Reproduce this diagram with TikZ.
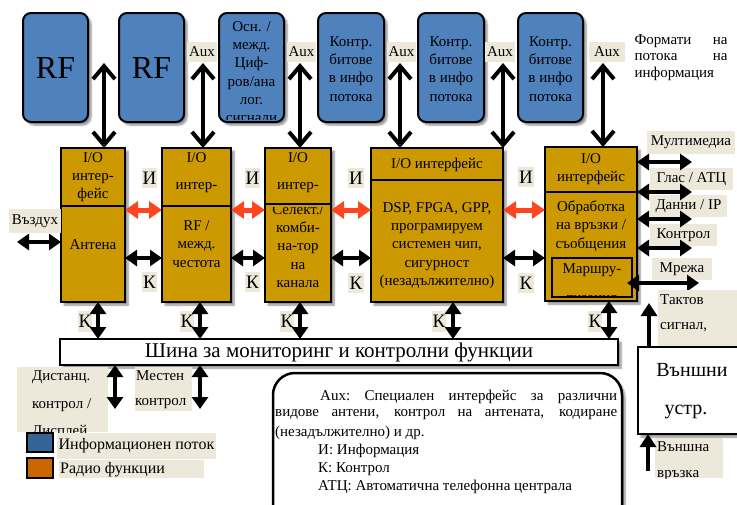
\documentclass[tikz,border=0pt]{standalone}
\usepackage{fontspec}
\setmainfont{Liberation Serif}
\usetikzlibrary{arrows.meta,shadows.blur}
\definecolor{blueF}{RGB}{79,129,189}
\definecolor{goldF}{RGB}{204,153,0}
\definecolor{beigeL}{RGB}{236,233,219}
\definecolor{redA}{RGB}{255,69,31}
\definecolor{legBlue}{RGB}{52,100,150}
\definecolor{legOrange}{RGB}{204,102,0}
\newcommand\mybox[7]{\node[inner sep=0pt,outer sep=0pt,minimum width={#4-#2},minimum height={#5-#3},#6] (#1) at ({(#2+#4)/2},{(#3+#5)/2}) {#7};}
\tikzset{
  sh/.style={blur shadow={shadow xshift=3pt,shadow yshift=-3pt,shadow blur steps=6,shadow opacity=45}},
  topbox/.style={draw=black,line width=2pt,fill=blueF,rounded corners=8pt,sh},
  goldbox/.style={draw=black,line width=2pt,fill=goldF},
  beige/.style={fill=beigeL},
  tt/.style={align=center,inner sep=0pt,font=\fontsize{15}{18.3}\selectfont},
  big/.style={inner sep=0pt,font=\fontsize{32}{36}\selectfont},
  lblf/.style={font=\fontsize{15}{18}\selectfont},
  ikf/.style={font=\fontsize{19}{20}\selectfont},
  vbarb/.style={line width=4pt,{Straight Barb[length=13pt,width=22pt]}-{Straight Barb[length=13pt,width=22pt]}},
  blk/.style={line width=3.5pt,{Triangle[length=12pt,width=16pt]}-{Triangle[length=12pt,width=16pt]}},
  reda/.style={draw=redA,line width=5pt,{Triangle[length=13pt,width=17pt]}-{Triangle[length=13pt,width=17pt]}},
  upa/.style={line width=3.5pt,-{Triangle[length=13pt,width=16pt]}},
}
\begin{document}
\begin{tikzpicture}[x=1pt,y=-1pt]
\useasboundingbox (0,0) rectangle (737,504);
% ---------- top boxes
\mybox{t1}{23}{13}{88}{122}{topbox}{}
\mybox{t2}{119}{13}{184}{122}{topbox}{}
\mybox{t3}{219}{13}{284}{122}{topbox}{}
\mybox{t4}{318}{13}{384}{122}{topbox}{}
\mybox{t5}{418}{13}{484}{122}{topbox}{}
\mybox{t6}{518}{13}{583}{122}{topbox}{}
\node[big] (t1x) at (55.5,68) {RF};
\node[big] (t2x) at (151.5,68) {RF};
\begin{scope}
\clip (221,15) rectangle (282,119.5);
\node[tt] (t3x) at (251.5,72) {Осн. /\\межд.\\Циф-\\ров/ана\\лог.\\сигнали};
\end{scope}
\node[tt] (t4x) at (351,69) {Контр.\\битове\\в инфо\\потока};
\node[tt] (t5x) at (451,69) {Контр.\\битове\\в инфо\\потока};
\node[tt] (t6x) at (550.5,69) {Контр.\\битове\\в инфо\\потока};
% Aux labels
\mybox{aux2}{187}{42}{217}{62}{beige,lblf}{Aux}
\mybox{aux3}{287}{42}{316}{62}{beige,lblf}{Aux}
\mybox{aux4}{387}{42}{416}{62}{beige,lblf}{Aux}
\mybox{aux5}{485}{42}{515}{62}{beige,lblf}{Aux}
\mybox{aux6}{589}{42}{625}{62}{beige,lblf}{Aux}
\node[lblf,inner sep=0pt,align=left] (fmt) at (681,57.5) {\hbox to 93pt{Формати\hfill на}\\[-1.5pt]\hbox to 93pt{потока\hfill на}\\[-1.5pt]\hbox to 93pt{информация\hfill}};
% ---------- gold boxes
\mybox{b1}{61}{148}{125}{302}{goldbox,sh}{}
\mybox{b1u}{61}{148}{125}{206}{goldbox}{}
\mybox{b1l}{61}{206}{125}{302}{goldbox}{}
\mybox{b2}{162}{148}{231}{302}{goldbox,sh}{}
\mybox{b2u}{162}{148}{231}{206}{goldbox}{}
\mybox{b2l}{162}{206}{231}{302}{goldbox}{}
\mybox{b3}{265}{148}{331}{302}{goldbox,sh}{}
\mybox{b3u}{265}{148}{331}{204}{goldbox}{}
\mybox{b3l}{265}{204}{331}{302}{goldbox}{}
\mybox{b4}{371}{148}{503}{302}{goldbox,sh}{}
\mybox{b4u}{371}{148}{503}{180}{goldbox}{}
\mybox{b4l}{371}{180}{503}{302}{goldbox}{}
\mybox{b5}{545}{147}{637}{301}{goldbox,sh}{}
\mybox{b5u}{545}{147}{637}{192}{goldbox}{}
\mybox{b5l}{545}{192}{637}{301}{goldbox}{}
\mybox{b5r}{552}{258}{632}{297}{goldbox}{}
% gold box texts
\node[tt] (b1ut) at (93,177) {I/O\\интер-\\фейс};
\node[tt] (b1lt) at (93,245) {Антена};
\node[tt] (b2ut1) at (196.5,158) {I/O};
\node[tt] (b2ut2) at (196.5,188) {интер-};
\node[tt] (b2lt) at (196.5,244) {RF /\\межд.\\честота};
\node[tt] (b3ut1) at (298,158) {I/O};
\node[tt] (b3ut2) at (298,188) {интер-};
\begin{scope}
\clip (266,207.5) rectangle (330,301);
\node[tt] (b3lt) at (298,246) {Селект./\\комби-\\на-тор\\на\\канала};
\end{scope}
\node[tt] (b4ut) at (437,165) {I/O интерфейс};
\node[tt] (b4lt) at (437,245.5) {DSP, FPGA, GPP,\\програмируем\\системен чип,\\сигурност\\(незадължително)};
\node[tt] (b5ut) at (591,169) {I/O\\интерфейс};
\node[tt] (b5lt) at (591,226) {Обработка\\на връзки /\\съобщения};
\begin{scope}
\clip (553,259) rectangle (631,296);
\node[tt] (b5rt1) at (592,270) {Маршру-};
\node[tt] (b5rt2) at (592,300) {тизация};
\end{scope}
% ---------- top arrows
\coordinate (a1) at (104,63);
\coordinate (a2) at (203,63);
\coordinate (a3) at (300,63);
\coordinate (a4) at (400,63);
\coordinate (a5) at (503,63);
\coordinate (a6) at (603,63);
\draw[vbarb] (a1) -- (a1 |- b1.north);
\draw[vbarb] (a2) -- (a2 |- b2.north);
\draw[vbarb] (a3) -- (a3 |- b3.north);
\draw[vbarb] (a4) -- (a4 |- b4.north);
\draw[vbarb] (a5) -- (a5 |- b4.north);
\draw[vbarb] (a6) -- (a6 |- b5.north);
% ---------- И / К labels and arrows between boxes
\mybox{i1}{142}{168}{157}{188}{beige,ikf}{И}
\mybox{i2}{245}{168}{260}{188}{beige,ikf}{И}
\mybox{i3}{348}{168}{364}{188}{beige,ikf}{И}
\mybox{i4}{518}{167}{534}{187}{beige,ikf}{И}
\mybox{k1}{142}{272}{157}{292}{beige,ikf}{К}
\mybox{k2}{245}{272}{260}{292}{beige,ikf}{К}
\mybox{k3}{348}{273}{364}{293}{beige,ikf}{К}
\mybox{k4}{518}{273}{534}{293}{beige,ikf}{К}
\coordinate (yi) at (0,210);
\coordinate (yk) at (0,258);
\draw[reda] (b1.east |- yi) -- (b2.west |- yi);
\draw[reda] (b2.east |- yi) -- (b3.west |- yi);
\draw[reda] (b3.east |- yi) -- (b4.west |- yi);
\draw[reda] (b4.east |- yi) -- (b5.west |- yi);
\draw[blk] (b1.east |- yk) -- (b2.west |- yk);
\draw[blk] (b2.east |- yk) -- (b3.west |- yk);
\draw[blk] (b3.east |- yk) -- (b4.west |- yk);
\draw[blk] (b4.east |- yk) -- (b5.west |- yk);
% Въздух
\mybox{air}{9}{209}{61}{233}{beige,lblf}{Въздух}
\coordinate (airL) at (17,242);
\draw[blk] (airL) -- (airL -| b1.west);
% ---------- right side
\mybox{mm}{647}{131}{735}{154}{beige,lblf}{Мултимедиа}
\mybox{gl}{650}{168}{733}{190}{beige,lblf}{Глас / АТЦ}
\mybox{dn}{650}{195}{727}{217}{beige,lblf}{Данни / IP}
\mybox{kt}{650}{224}{717}{246}{beige,lblf}{Контрол}
\mybox{mr}{652}{258}{712}{280}{beige,lblf}{Мрежа}
\coordinate (r1) at (692,162);
\coordinate (r2) at (692,192);
\coordinate (r3) at (692,219);
\coordinate (r4) at (692,248);
\draw[blk] (b5.east |- r1) -- (r1);
\draw[blk] (b5.east |- r2) -- (r2);
\draw[blk] (b5.east |- r3) -- (r3);
\draw[blk] (b5.east |- r4) -- (r4);
\coordinate (m1) at (627,283);
\coordinate (m2) at (699,283);
\draw[blk] (m1) -- (m2);
% Тактов сигнал
\mybox{tak}{658}{290}{737}{346}{beige}{}
\begin{scope}
\clip (658,290) rectangle (737,346);
\node[lblf,anchor=west,inner sep=0pt] (takt1) at (660,300) {Тактов};
\node[lblf,anchor=west,inner sep=0pt] (takt2) at (660,327) {сигнал,};
\end{scope}
% Външни устр.
\mybox{ext}{638}{347}{750}{434}{draw=black,line width=2pt,fill=white,sh}{}
\node[inner sep=0pt,font=\fontsize{20}{22}\selectfont] (extt1) at (692,370) {Външни};
\node[inner sep=0pt,font=\fontsize{20}{22}\selectfont] (extt2) at (686,412) {устр.};
\coordinate (tk) at (649,303);
\draw[upa] (tk |- ext.north) -- (tk);
\mybox{vv}{655}{438}{723}{478}{beige}{}
\begin{scope}
\clip (655,438) rectangle (723,478);
\node[lblf,anchor=west,inner sep=0pt] (vv1) at (657,447) {Външна};
\node[lblf,anchor=west,inner sep=0pt] (vv2) at (657,476) {връзка};
\end{scope}
\coordinate (vw) at (648,471);
\draw[upa] (vw) -- (vw |- ext.south);
% ---------- bus
\mybox{bus}{60}{339}{618}{365}{draw=black,line width=2pt,fill=white,sh,font=\fontsize{21}{23}\selectfont}{Шина за мониторинг и контролни функции}
\mybox{bk1}{78}{311}{92}{332}{beige,ikf}{К}
\mybox{bk2}{180}{311}{194}{332}{beige,ikf}{К}
\mybox{bk3}{280}{311}{294}{332}{beige,ikf}{К}
\mybox{bk4}{432}{311}{446}{332}{beige,ikf}{К}
\mybox{bk5}{588}{311}{602}{332}{beige,ikf}{К}
\coordinate (c1) at (98,0);
\coordinate (c2) at (200,0);
\coordinate (c3) at (300,0);
\coordinate (c4) at (453,0);
\coordinate (c5) at (609,0);
\draw[blk] (c1 |- b1.south) -- (c1 |- bus.north);
\draw[blk] (c2 |- b2.south) -- (c2 |- bus.north);
\draw[blk] (c3 |- b3.south) -- (c3 |- bus.north);
\draw[blk] (c4 |- b4.south) -- (c4 |- bus.north);
\draw[blk] (c5 |- b5.south) -- (c5 |- bus.north);
% below bus
\mybox{dist}{17}{367}{108}{432}{beige}{}
\begin{scope}
\clip (17,367) rectangle (108,432);
\node[lblf,anchor=west,inner sep=0pt] (dist1) at (32,377) {Дистанц.};
\node[lblf,anchor=west,inner sep=0pt] (dist2) at (32,405) {контрол /};
\node[lblf,anchor=west,inner sep=0pt] (dist3) at (32,432) {Дисплей};
\end{scope}
\mybox{mest}{135}{367}{192}{411}{beige}{}
\node[lblf,anchor=west,inner sep=0pt] (mest1) at (136,376) {Местен};
\node[lblf,anchor=west,inner sep=0pt] (mest2) at (135,404) {контрол};
\coordinate (d1) at (115,409);
\coordinate (d2) at (200,409);
\draw[blk] (d1 |- bus.south) -- (d1);
\draw[blk] (d2 |- bus.south) -- (d2);
% ---------- legend
\mybox{lg1}{27}{433}{53}{452}{draw=black,line width=2.5pt,fill=legBlue}{}
\mybox{lg2}{27}{458}{53}{478}{draw=black,line width=2.5pt,fill=legOrange}{}
\mybox{lg1t}{57}{433}{216}{459}{beige,font=\fontsize{16}{18}\selectfont}{Информационен поток}
\mybox{lg2t}{59}{460}{204}{478}{beige}{}
\node[anchor=west,inner sep=0pt,font=\fontsize{16}{18}\selectfont] (lg2tt) at (60,469.5) {Радио функции};
% ---------- note box
\node[draw=black,line width=2.5pt,fill=white,rounded corners=22pt,sh,inner sep=0pt,minimum width=349pt,minimum height=160pt] (note) at (447.5,453) {};
\node[lblf,anchor=west,inner sep=0pt] (n1) at (320,397) {\hbox to 297pt{\spaceskip=3pt plus 1fil\xspaceskip=3pt plus 1fil\relax Aux: Специален интерфейс за различни}};
\node[lblf,anchor=west,inner sep=0pt] (n2) at (275,415) {\hbox to 342pt{\spaceskip=3pt plus 1fil\xspaceskip=3pt plus 1fil\relax видове антени, контрол на антената, кодиране}};
\node[lblf,anchor=west,inner sep=0pt] (n3) at (275,433) {(незадължително) и др.};
\node[lblf,anchor=west,inner sep=0pt] (n4) at (318,451) {И: Информация};
\node[lblf,anchor=west,inner sep=0pt] (n5) at (318,469) {К: Контрол};
\node[lblf,anchor=west,inner sep=0pt] (n6) at (318,487) {АТЦ: Автоматична телефонна централа};
\end{tikzpicture}
\end{document}
